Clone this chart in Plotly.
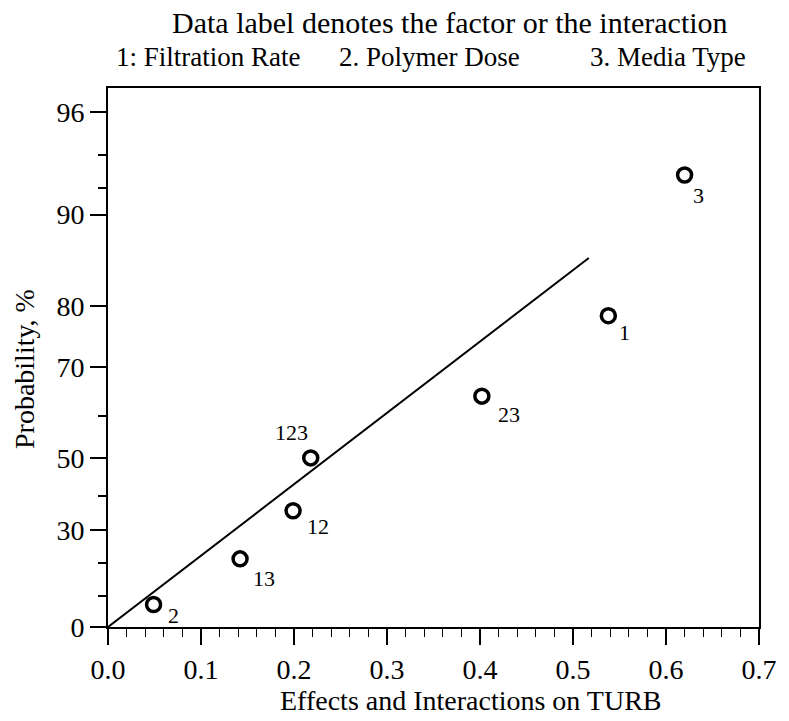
import plotly.graph_objects as go
from statistics import NormalDist

# ---- data ----
effect_labels = ["2", "13", "12", "123", "23", "1", "3"]
effects = [0.049, 0.142, 0.199, 0.218, 0.402, 0.538, 0.620]
probability = [7.14, 21.43, 35.71, 50.0, 64.29, 78.57, 92.86]

line_x = [0.0, 0.517]
line_p = [0.0, 85.9]

y_major_ticks = [0, 30, 50, 70, 80, 90, 96]
y_minor_ticks = [10, 20, 40, 60, 92, 94]
x_major_ticks = [0.0, 0.1, 0.2, 0.3, 0.4, 0.5, 0.6, 0.7]

# half-normal probability scale
nd = NormalDist()
def hz(p):
    return nd.inv_cdf((1 + p / 100.0) / 2)

# label offsets (px) for each data label
label_dx = [20, 24, 25, -19, 27, 16, 14]
label_dy = [-11, -20, -16, 25, -18, -17, -20]

FONT = "Liberation Serif"
L, R, T, B = 108, 20, 88, 94
PW = 789 - L - R
PH = 721 - T - B

def px_to_paper_x(px):
    return (px - L) / PW

fig = go.Figure()
fig.add_trace(go.Scatter(
    x=line_x, y=[hz(p) for p in line_p], mode="lines",
    line=dict(color="black", width=2), showlegend=False, hoverinfo="skip"))
fig.add_trace(go.Scatter(
    x=effects, y=[hz(p) for p in probability], mode="markers",
    marker=dict(symbol="circle-open", size=14, color="black",
                line=dict(width=3.5, color="black")),
    showlegend=False))

for lab, xv, pv, dx, dy in zip(effect_labels, effects, probability, label_dx, label_dy):
    fig.add_annotation(x=xv, y=hz(pv), text=lab, showarrow=False,
                       xshift=dx, yshift=dy,
                       font=dict(family=FONT, size=22, color="black"))

fig.add_annotation(xref="paper", yref="paper", x=px_to_paper_x(455), y=1.0, yshift=66,
                   text="Data label denotes the factor or the interaction",
                   showarrow=False, xanchor="center", yanchor="middle",
                   font=dict(family=FONT, size=30, color="black"))
for txt, cx in [("1: Filtration Rate", 210), ("2. Polymer Dose", 434), ("3. Media Type", 677)]:
    fig.add_annotation(xref="paper", yref="paper", x=px_to_paper_x(cx), y=1.0, yshift=31,
                       text=txt, showarrow=False, xanchor="center", yanchor="middle",
                       font=dict(family=FONT, size=27, color="black"))

# axis titles
fig.add_annotation(xref="paper", yref="paper", x=px_to_paper_x(477), y=0, yshift=-(700 - (721 - B)),
                   text="Effects and Interactions on TURB", showarrow=False,
                   xanchor="center", yanchor="middle",
                   font=dict(family=FONT, size=28, color="black"))
fig.add_annotation(xref="paper", yref="paper", x=0, xshift=24 - L,
                   y=(721 - B - 369) / PH,
                   text="Probability, %", showarrow=False, textangle=-90,
                   xanchor="center", yanchor="middle",
                   font=dict(family=FONT, size=28, color="black"))

fig.update_layout(
    width=789, height=721,
    margin=dict(l=L, r=R, t=T, b=B),
    paper_bgcolor="white", plot_bgcolor="white",
    font=dict(family=FONT, size=28, color="black"),
    xaxis=dict(
        range=[0, 0.7], tickvals=x_major_ticks,
        ticktext=[f"{v:.1f}" for v in x_major_ticks],
        ticks="outside", ticklen=16, tickwidth=1.5, tickcolor="black",
        minor=dict(dtick=0.02, tick0=0, ticks="outside", ticklen=8, tickwidth=1.2, tickcolor="black"),
        showgrid=False, zeroline=False, showline=True, linecolor="black", linewidth=2,
        mirror=True,
        tickfont=dict(family=FONT, size=28),
    ),
    yaxis=dict(
        range=[0, 2.15], tickvals=[hz(p) for p in y_major_ticks],
        ticktext=[str(p) for p in y_major_ticks],
        ticks="outside", ticklen=16, tickwidth=1.5, tickcolor="black",
        minor=dict(tickmode="array", tickvals=[hz(p) for p in y_minor_ticks],
                   ticks="outside", ticklen=8, tickwidth=1.5, tickcolor="black"),
        showgrid=False, zeroline=False, showline=True, linecolor="black", linewidth=2,
        mirror=True,
        tickfont=dict(family=FONT, size=28),
    ),
)

fig.write_html("out.html")
